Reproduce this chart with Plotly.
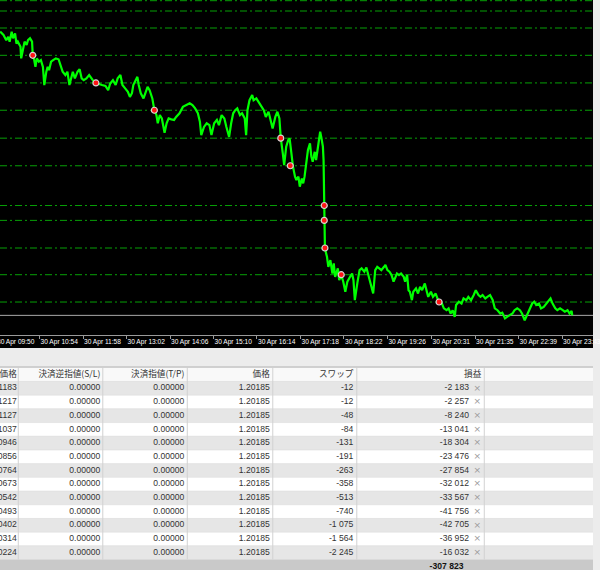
import plotly.graph_objects as go

W, H = 600, 570

# ---------------- data ----------------
bar_minutes = [
    6, 11, 15, 18, 20, 23, 25, 28, 30, 32,
    36, 37, 40, 42, 45, 47, 50, 53, 54, 55,
    58, 60, 63, 66, 69, 71, 74, 76, 78, 81,
    84, 88, 92, 95, 98, 102, 105, 108, 110, 113,
    116, 120, 123, 126, 129, 133, 137, 141, 144, 147,
    151, 156, 161, 165, 168, 172, 176, 179, 183, 186,
    190, 194, 197, 200, 202, 206, 208, 210, 213, 217,
    220, 223, 226, 230, 233, 236, 238, 241, 244, 248,
    251, 254, 258, 262, 265, 270, 275, 280, 285, 289,
    293, 297, 300, 302, 306, 310, 314, 317, 321, 325,
    328, 332, 336, 339, 343, 346, 349, 352, 355, 359,
    362, 366, 368, 370, 373, 377, 379, 383, 386, 390,
    394, 397, 401, 404, 407, 411, 414, 417, 419, 422,
    424, 427, 430, 432, 435, 437, 440, 442, 445, 447,
    450, 452, 454, 457, 459, 462, 464, 466, 469, 471,
    474, 476, 477, 479, 481, 482, 483, 484, 487, 489,
    492, 495, 497, 499, 503, 505, 508, 511, 514, 517,
    521, 524, 526, 528, 532, 535, 538, 542, 545, 548,
    551, 555, 558, 561, 564, 567, 571, 573, 576, 579,
    582, 585, 588, 590, 593, 596, 600, 602, 605, 607,
    609, 612, 614, 618, 621, 624, 627, 631, 634, 636,
    640, 643, 647, 650, 652, 655, 659, 663, 666, 669,
    672, 675, 677, 681, 685, 688, 692, 695, 699, 703,
    706, 710, 713, 716, 720, 723, 727, 731, 734, 738,
    742, 745, 749, 752, 756, 760, 763, 767, 771, 774,
    778, 782, 785, 789, 792, 795, 799, 802, 806, 810,
    813, 816, 819, 823, 826, 830, 834, 837, 841, 844, 847, 848,
]
close_prices = [
    1.21115, 1.21104, 1.21087, 1.21098, 1.21082, 1.21115, 1.21093, 1.21109, 1.21076, 1.21082,
    1.21065, 1.21027, 1.21060, 1.21082, 1.21071, 1.21087, 1.21093, 1.21082, 1.21038, 1.21035,
    1.20999, 1.21027, 1.21016, 1.21021, 1.20999, 1.20939, 1.20983, 1.20999, 1.20988, 1.21016,
    1.21021, 1.21027, 1.21024, 1.20999, 1.20983, 1.20972, 1.20983, 1.20939, 1.20955, 1.20983,
    1.20961, 1.20983, 1.20991, 1.20961, 1.20955, 1.20961, 1.20972, 1.20961, 1.20950, 1.20946,
    1.20944, 1.20939, 1.20936, 1.20922, 1.20944, 1.20955, 1.20939, 1.20961, 1.20972, 1.20939,
    1.20928, 1.20917, 1.20900, 1.20912, 1.20939, 1.20961, 1.20966, 1.20939, 1.20912, 1.20895,
    1.20912, 1.20933, 1.20922, 1.20895, 1.20856, 1.20840, 1.20813, 1.20840, 1.20829, 1.20782,
    1.20813, 1.20829, 1.20826, 1.20824, 1.20834, 1.20846, 1.20867, 1.20873, 1.20879, 1.20873,
    1.20862, 1.20846, 1.20818, 1.20774, 1.20801, 1.20813, 1.20807, 1.20774, 1.20813, 1.20824,
    1.20807, 1.20840, 1.20829, 1.20801, 1.20768, 1.20813, 1.20846, 1.20856, 1.20862, 1.20840,
    1.20846, 1.20829, 1.20774, 1.20856, 1.20889, 1.20906, 1.20889, 1.20895, 1.20884, 1.20867,
    1.20856, 1.20834, 1.20851, 1.20824, 1.20796, 1.20834, 1.20851, 1.20829, 1.20764, 1.20714,
    1.20675, 1.20736, 1.20758, 1.20763, 1.20703, 1.20670, 1.20637, 1.20626, 1.20637, 1.20604,
    1.20631, 1.20615, 1.20637, 1.20681, 1.20725, 1.20747, 1.20703, 1.20686, 1.20719, 1.20692,
    1.20736, 1.20780, 1.20785, 1.20763, 1.20736, 1.20692, 1.20540, 1.20400, 1.20373, 1.20340,
    1.20362, 1.20318, 1.20351, 1.20307, 1.20335, 1.20296, 1.20313, 1.20291, 1.20258, 1.20291,
    1.20307, 1.20318, 1.20296, 1.20230, 1.20291, 1.20329, 1.20335, 1.20324, 1.20338, 1.20313,
    1.20291, 1.20252, 1.20329, 1.20340, 1.20335, 1.20329, 1.20340, 1.20346, 1.20329, 1.20324,
    1.20313, 1.20291, 1.20307, 1.20318, 1.20313, 1.20318, 1.20307, 1.20291, 1.20313, 1.20263,
    1.20258, 1.20230, 1.20258, 1.20269, 1.20252, 1.20274, 1.20263, 1.20285, 1.20258, 1.20241,
    1.20258, 1.20241, 1.20252, 1.20230, 1.20221, 1.20225, 1.20203, 1.20197, 1.20203, 1.20186,
    1.20197, 1.20175, 1.20214, 1.20225, 1.20219, 1.20236, 1.20230, 1.20241, 1.20230, 1.20247,
    1.20263, 1.20247, 1.20241, 1.20247, 1.20236, 1.20241, 1.20247, 1.20230, 1.20203, 1.20197,
    1.20186, 1.20189, 1.20170, 1.20175, 1.20181, 1.20186, 1.20197, 1.20203, 1.20197, 1.20186,
    1.20164, 1.20186, 1.20203, 1.20219, 1.20225, 1.20214, 1.20219, 1.20203, 1.20208, 1.20219,
    1.20230, 1.20236, 1.20219, 1.20203, 1.20197, 1.20203, 1.20197, 1.20192, 1.20197, 1.20186, 1.20195, 1.20180,
]

tick_minutes = [0, 64, 128, 192, 256, 320, 384, 448, 512, 576, 641, 705, 769, 833]
tick_labels = ["30 Apr 09:50", "30 Apr 10:54", "30 Apr 11:58", "30 Apr 13:02",
               "30 Apr 14:06", "30 Apr 15:10", "30 Apr 16:14", "30 Apr 17:18",
               "30 Apr 18:22", "30 Apr 19:26", "30 Apr 20:31", "30 Apr 21:35",
               "30 Apr 22:39", "30 Apr 23:43"]

bid_price = 1.20180

headers = ["価格", "決済逆指値(S/L)", "決済指値(T/P)", "価格", "スワップ", "損益"]
open_prices = [1.21183, 1.21217, 1.21127, 1.21037, 1.20946, 1.20856, 1.20764,
               1.20673, 1.20542, 1.20493, 1.20402, 1.20314, 1.20224]
entry_minutes = [None, None, None, 54, 147, 233, 419, 433, 483, 483, 484, 508, 652]
stop_loss = [0.0, 0.0, 0.0, 0.0, 0.0, 0.0, 0.0, 0.0, 0.0, 0.0, 0.0, 0.0, 0.0]
take_profit = [0.0, 0.0, 0.0, 0.0, 0.0, 0.0, 0.0, 0.0, 0.0, 0.0, 0.0, 0.0, 0.0]
close_price = [1.20185, 1.20185, 1.20185, 1.20185, 1.20185, 1.20185, 1.20185,
               1.20185, 1.20185, 1.20185, 1.20185, 1.20185, 1.20185]
swaps = [-12, -12, -48, -84, -131, -191, -263, -358, -513, -740, -1075, -1564, -2245]
profits = [-2183, -2257, -8240, -13041, -18304, -23476, -27854, -32012, -33567,
           -41756, -42705, -36952, -16032]
total_profit = -307823

# ---------------- geometry / style ----------------
CHART_BOTTOM = 335      # px, bottom of price area
BLACK_BOTTOM = 348      # px, bottom of black chart panel
ROW_PX = 13.7
HEADER_CENTER = 374.6

def pf(px):
    return 1 - px / H

X_RANGE = [5.82, 878.5]
Y_RANGE = [1.201153, 1.212193]

n = len(open_prices)
row_idx = list(range(1, n + 1))
total_row = n + 1
y2_range = [(H - HEADER_CENTER) / ROW_PX, (BLACK_BOTTOM - HEADER_CENTER) / ROW_PX]

def fmt_int(v):
    return f"{v:,}".replace(",", " ")

TFONT = "Liberation Sans, Arial, Noto Sans CJK JP"
TCOL = "#333333"
TSIZE = 8.6

fig = go.Figure()

# price line
fig.add_trace(go.Scatter(
    x=bar_minutes, y=close_prices, mode="lines",
    line=dict(color="#00ff00", width=2.2),
    xaxis="x", yaxis="y", hoverinfo="skip", showlegend=False))

# entry markers
mk_x = [m for m in entry_minutes if m is not None]
mk_y = [p for m, p in zip(entry_minutes, open_prices) if m is not None]
fig.add_trace(go.Scatter(
    x=mk_x, y=mk_y, mode="markers",
    marker=dict(color="#ff1414", size=6, line=dict(color="#d4d4d4", width=1.2)),
    xaxis="x", yaxis="y", hoverinfo="skip", showlegend=False))

shapes = []
# black chart panel
shapes.append(dict(type="rect", xref="paper", yref="paper", x0=0, x1=1,
                   y0=pf(BLACK_BOTTOM), y1=1, fillcolor="#000000",
                   line=dict(width=0), layer="below"))
# order level lines
for p in open_prices:
    shapes.append(dict(type="line", xref="paper", yref="y", x0=0, x1=1, y0=p, y1=p,
                       line=dict(color="#07a007", width=1, dash="7px,3px,2px,3px"),
                       layer="below"))
# bid line
shapes.append(dict(type="line", xref="paper", yref="y", x0=0, x1=1,
                   y0=bid_price, y1=bid_price,
                   line=dict(color="#a8a8a8", width=1), layer="below"))

# table: header top border
shapes.append(dict(type="line", xref="paper", yref="paper", x0=0, x1=1,
                   y0=pf(367), y1=pf(367), line=dict(color="#c6c6c6", width=1.5)))
# row backgrounds
for r in range(0, total_row + 1):
    if r == 0:
        col = "#f9f9f9"
    elif r == total_row:
        col = "#c9c9c9"
    elif r % 2 == 1:
        col = "#e6e6e6"
    else:
        col = "#ffffff"
    shapes.append(dict(type="rect", xref="x2", yref="y2", x0=0, x1=W,
                       y0=r - 0.5, y1=r + 0.5, fillcolor=col,
                       line=dict(width=0), layer="below"))
# row separators
for r in range(0, total_row):
    shapes.append(dict(type="line", xref="x2", yref="y2", x0=0, x1=W,
                       y0=r + 0.5, y1=r + 0.5,
                       line=dict(color="#dcdcdc", width=0.6), layer="below"))
# column separators
col_seps = [18.5, 104, 189.5, 276, 361, 490]
for xs in col_seps:
    shapes.append(dict(type="line", xref="x2", yref="y2", x0=xs, x1=xs,
                       y0=-0.5, y1=total_row - 0.5,
                       line=dict(color="#d2d2d2", width=1), layer="below"))

# header texts
head_right = [17, 101.5, 186.5, 273, 357.5, 487]
fig.add_trace(go.Scatter(
    x=head_right, y=[0] * len(headers), text=headers, mode="text",
    textposition="middle left",
    textfont=dict(family="Noto Sans CJK JP, Liberation Sans", size=TSIZE, color=TCOL),
    xaxis="x2", yaxis="y2", hoverinfo="skip", showlegend=False))

# data columns
columns = [
    [f"{v:.5f}" for v in open_prices],
    [f"{v:.5f}" for v in stop_loss],
    [f"{v:.5f}" for v in take_profit],
    [f"{v:.5f}" for v in close_price],
    [fmt_int(v) for v in swaps],
    [fmt_int(v) for v in profits],
]
val_right = [17, 101.5, 186.5, 273, 357.5, 474.5]
for xr, vals in zip(val_right, columns):
    fig.add_trace(go.Scatter(
        x=[xr] * n, y=row_idx, text=vals, mode="text",
        textposition="middle left",
        textfont=dict(family=TFONT, size=TSIZE, color=TCOL),
        xaxis="x2", yaxis="y2", hoverinfo="skip", showlegend=False))

# close buttons
fig.add_trace(go.Scatter(
    x=[483] * n, y=row_idx, text=["×"] * n, mode="text",
    textposition="middle center",
    textfont=dict(family="DejaVu Sans", size=9, color="#9a9a9a"),
    xaxis="x2", yaxis="y2", hoverinfo="skip", showlegend=False))

# total
fig.add_trace(go.Scatter(
    x=[469], y=[total_row], text=[f"<b>{fmt_int(total_profit)}</b>"], mode="text",
    textposition="middle left",
    textfont=dict(family=TFONT, size=TSIZE, color="#111111"),
    xaxis="x2", yaxis="y2", hoverinfo="skip", showlegend=False))

fig.update_layout(
    width=W, height=H,
    margin=dict(l=0, r=0, t=0, b=0),
    paper_bgcolor="#ececec",
    plot_bgcolor="rgba(0,0,0,0)",
    showlegend=False,
    shapes=shapes,
    xaxis=dict(domain=[0, 1], range=X_RANGE, anchor="y",
               tickvals=tick_minutes, ticktext=tick_labels, tickangle=0,
               ticks="outside", ticklen=3, tickcolor="#9a9a9a", tickwidth=1,
               showline=True, linecolor="#9a9a9a", linewidth=1,
               tickfont=dict(family="Liberation Sans, Arial", size=6.6, color="#ffffff"),
               ticklabelposition="outside right", ticklabeloverflow="allow",
               showgrid=False, zeroline=False, fixedrange=True),
    yaxis=dict(domain=[pf(CHART_BOTTOM), 1], range=Y_RANGE, anchor="x",
               visible=False, showgrid=False, zeroline=False, fixedrange=True),
    xaxis2=dict(domain=[0, 1], range=[0, W], anchor="y2", visible=False,
                showgrid=False, zeroline=False, fixedrange=True),
    yaxis2=dict(domain=[0, pf(BLACK_BOTTOM)], range=y2_range, anchor="x2",
                visible=False, showgrid=False, zeroline=False, fixedrange=True),
    annotations=[dict(xref="paper", yref="paper", x=-5 / W, y=pf(342),
                      xanchor="left", yanchor="middle", showarrow=False,
                      text=tick_labels[0],
                      font=dict(family="Liberation Sans, Arial", size=6.6, color="#ffffff"))],
)

fig.write_html(
    "out.html",
    config={"displayModeBar": False},
    post_script="document.body.style.margin='0px';document.body.style.overflow='hidden';",
)
